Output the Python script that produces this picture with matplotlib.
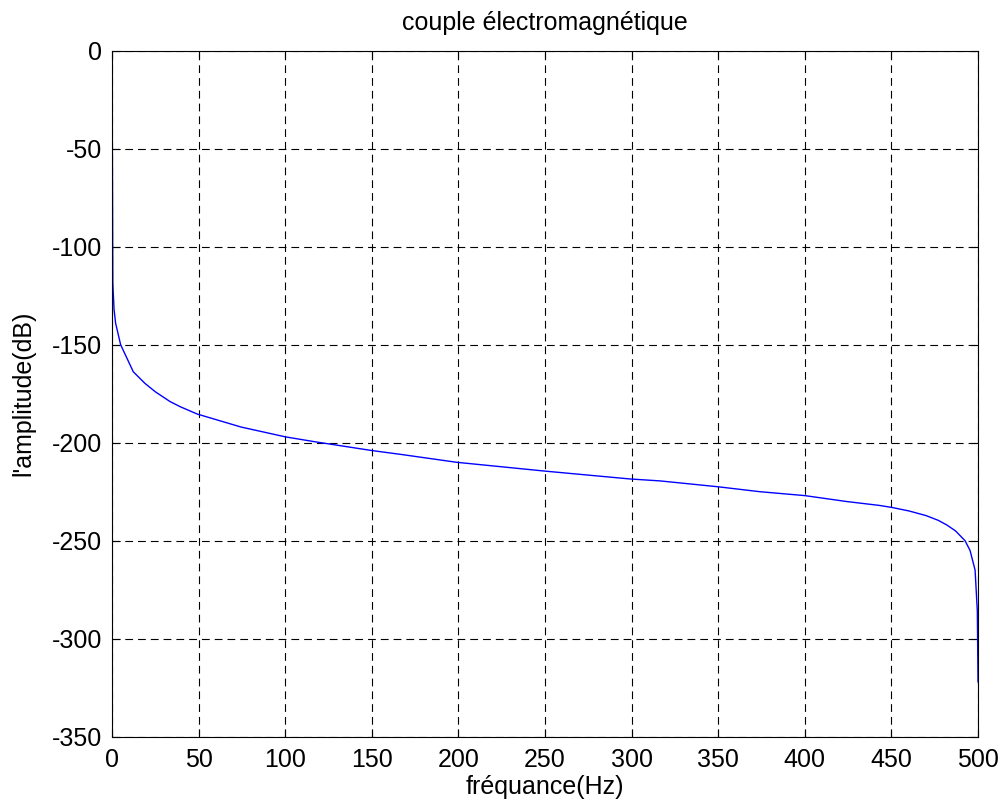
import numpy as np
import matplotlib
matplotlib.use('Agg')
import matplotlib.pyplot as plt

plt.rcParams['font.family'] = ['Liberation Sans', 'DejaVu Sans']
plt.rcParams['axes.unicode_minus'] = False

# spectre du couple (dB) relevé point par point
freq_hz = [0, 0.5, 1.2, 2.1, 5, 12.3, 19, 25, 33.5, 39.3, 49.3, 74.5, 100,
           117, 150, 167, 199, 250, 299, 316.5, 350, 374, 400, 424, 443, 450,
           460, 470, 477, 482, 487, 492.5, 495.4, 498.3, 499.6, 500]
amp_db = [5, -119, -132, -139, -150, -163.8, -169.7, -174, -179, -181.6,
          -185.4, -192, -197, -199.5, -204, -206, -210, -214.5, -218.5,
          -219.5, -222.5, -225, -227, -230, -232, -233, -234.8, -237.2,
          -239.6, -242, -245, -250, -255, -265, -286, -322]

xticks = np.arange(0, 501, 50)
yticks = np.arange(-350, 1, 50)

fig = plt.figure(figsize=(10.06, 8.09), dpi=100)
ax = fig.add_axes([0.1113, 0.0894, 0.8609, 0.8479])

ax.plot(freq_hz, amp_db, color='b', lw=1.0)

ax.set_xlim(0, 500)
ax.set_ylim(-350, 0)
ax.set_xticks(xticks)
ax.set_yticks(yticks)
ax.grid(True, color='k', linestyle=(0, (7, 4.5)), lw=0.8)
ax.tick_params(direction='in', top=True, right=True, length=6, labelsize=18)
ax.tick_params(axis='x', pad=8)
ax.tick_params(axis='y', pad=7)

ax.set_title('couple électromagnétique', fontsize=18, pad=15)
ax.set_xlabel('fréquance(Hz)', fontsize=18, labelpad=2)
ax.set_ylabel("l'amplitude(dB)", fontsize=18, labelpad=12)

fig.savefig('out.png', dpi=100)
